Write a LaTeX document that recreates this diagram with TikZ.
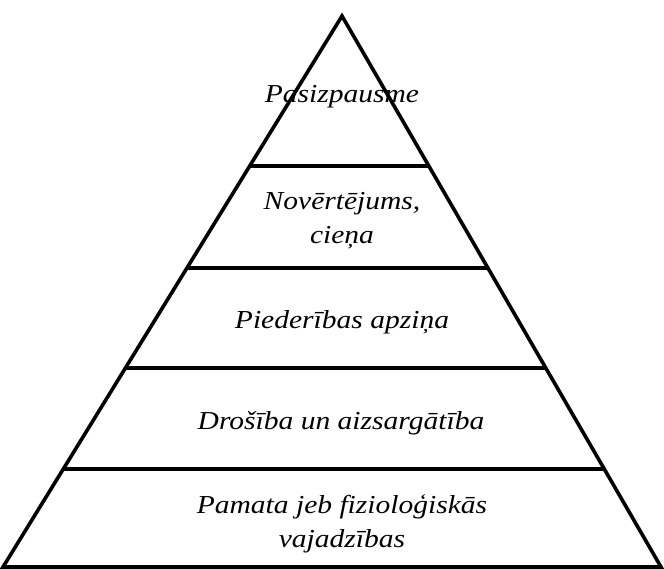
\documentclass[tikz,border=0pt]{standalone}
\usepackage{fontspec}
\setmainfont{Liberation Serif}
\begin{document}
\begin{tikzpicture}[x=1bp,y=-1bp,
  edge/.style={line width=3.6bp,line join=miter},
  level/.style={font=\fontsize{26}{34}\selectfont\itshape,align=center,
    inner sep=0pt,anchor=base,xscale=1.14,transform shape}]
\useasboundingbox (0,0) rectangle (664,569);
% outline of the pyramid
\coordinate (top) at (342,16);
\coordinate (bl) at (3,567);
\coordinate (br) at (661,567);
\draw[edge] (top) -- (bl) -- (br) -- cycle;
% dividing lines between the levels
\foreach \y/\n in {166/a,268/b,368/c,469/d}{
  \path (top) -- (bl) coordinate[pos={(\y-16)/551}] (l\n);
  \path (top) -- (br) coordinate[pos={(\y-16)/551}] (r\n);
  \draw[edge] (l\n) -- (r\n);
}
% level labels, placed by the baseline of their last line
\node[level] (n1) at (342,103) {Pasizpausme};
\node[level] (n2) at (342,243) {Novērtējums,\\cieņa};
\node[level] (n3) at (342,328) {Piederības apziņa};
\node[level] (n4) at (341,429) {Drošība un aizsargātība};
\node[level] (n5) at (342,547) {Pamata jeb fizioloģiskās\\vajadzības};
\end{tikzpicture}
\end{document}
